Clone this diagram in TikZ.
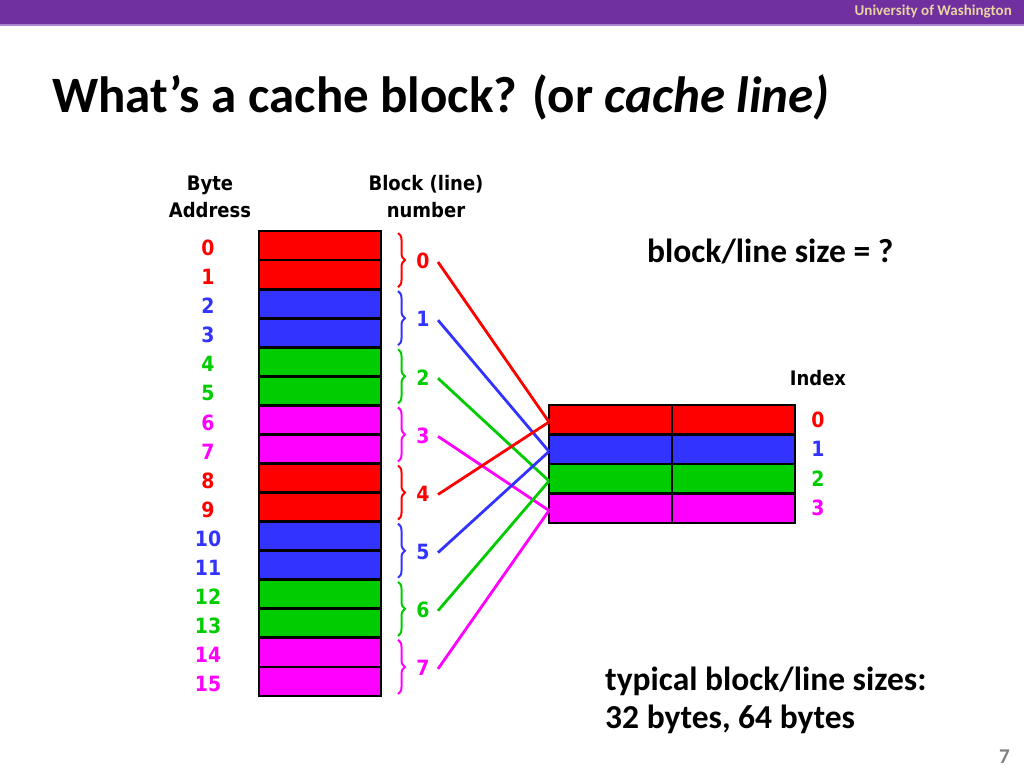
\documentclass[tikz,border=0pt]{standalone}
\usepackage{fontspec}
\setmainfont{Carlito}
\newfontfamily\tah{DejaVu Sans Condensed}
\usetikzlibrary{decorations.pathreplacing}
\definecolor{cR}{RGB}{255,0,0}
\definecolor{cB}{RGB}{51,51,255}
\definecolor{cG}{RGB}{0,204,0}
\definecolor{cM}{RGB}{255,0,255}
\definecolor{uwpurple}{RGB}{112,48,160}
\definecolor{uwline}{RGB}{170,130,210}
\definecolor{uwgold}{RGB}{232,211,162}
\definecolor{pgnum}{RGB}{128,128,128}
\tikzset{
  memcell/.style={draw=black,line width=2.8pt,minimum width=122pt,minimum height=29.06pt,inner sep=0pt,outer sep=0pt},
  cachecell/.style={draw=black,line width=2.8pt,minimum width=123pt,minimum height=29.5pt,inner sep=0pt,outer sep=0pt},
  lab/.style={font=\tah\bfseries\fontsize{21}{27}\selectfont,inner sep=0pt},
  hdr/.style={font=\tah\bfseries\fontsize{20}{27}\selectfont,inner sep=0pt,align=center},
  brc/.style={decorate,decoration={brace,amplitude=7pt},line width=2pt},
  link/.style={line width=2.8pt},
  big/.style={font=\bfseries\fontsize{33.5}{40}\selectfont,inner sep=0pt,anchor=base west}
}
\begin{document}
\begin{tikzpicture}[x=1pt,y=-1pt]
\useasboundingbox (0,0) rectangle (1024,768);
\fill[white] (0,0) rectangle (1024,768);
% top bar
\fill[uwpurple] (0,0) rectangle (1024,24);
\fill[uwline] (0,24) rectangle (1024,26);
\node[anchor=base east,inner sep=0pt,text=uwgold,font=\bfseries\fontsize{15}{18}\selectfont] (uw) at (1012,16) {University of Washington};
% title
\node[anchor=base west,inner sep=0pt,font=\bfseries\fontsize{51}{60}\selectfont] (title) at (52,112) {What’s a cache block? (or \textit{cache line)}};
% headers
\node[hdr] (hb) at (210,197) {Byte\\Address};
\node[hdr] (hl) at (426,197) {Block (line)\\number};
\node[lab,font=\tah\bfseries\fontsize{20}{27}\selectfont] (hi) at (818,378) {Index};
% memory cells
\foreach \i/\c in {0/cR,1/cR,2/cB,3/cB,4/cG,5/cG,6/cM,7/cM,8/cR,9/cR,10/cB,11/cB,12/cG,13/cG,14/cM,15/cM}{
  \node[memcell,fill=\c] (m\i) at (320,{231+29.06*\i+14.53}) {};
  \node[lab,text=\c] (a\i) at (208,{231+29.06*\i+17}) {\i};
}
% cache
\foreach \k/\c in {0/cR,1/cB,2/cG,3/cM}{
  \node[cachecell,fill=\c] (c\k) at (610.5,{405+29.5*\k+14.75}) {};
  \node[cachecell,fill=\c] (d\k) at (733.5,{405+29.5*\k+14.75}) {};
  \node[lab,text=\c] (x\k) at (818,{405+29.5*\k+14.75}) {\k};
}
% braces, block numbers, links
\foreach \j/\c/\k in {0/cR/0,1/cB/1,2/cG/2,3/cM/3,4/cR/0,5/cB/1,6/cG/2,7/cM/3}{
  \draw[brc,\c] (398,{231+58.125*\j+2}) -- (398,{231+58.125*(\j+1)-2});
  \node[lab,text=\c] (b\j) at (423,{231+58.125*\j+30}) {\j};
  \coordinate (s\j) at (438,{231+58.125*\j+31});
  \coordinate (e\j) at (549,{405+29.5*\k+17});
  \draw[link,\c] (s\j) -- (e\j);
}
% texts
\node[big] (bs) at (647,262) {block/line size = ?};
\node[big] (ts1) at (605,690) {typical block/line sizes:};
\node[big] (ts2) at (605,728) {32 bytes, 64 bytes};
\node[anchor=base east,inner sep=0pt,text=pgnum,font=\bfseries\fontsize{21}{24}\selectfont] (pg) at (1010,763) {7};
\end{tikzpicture}
\end{document}
